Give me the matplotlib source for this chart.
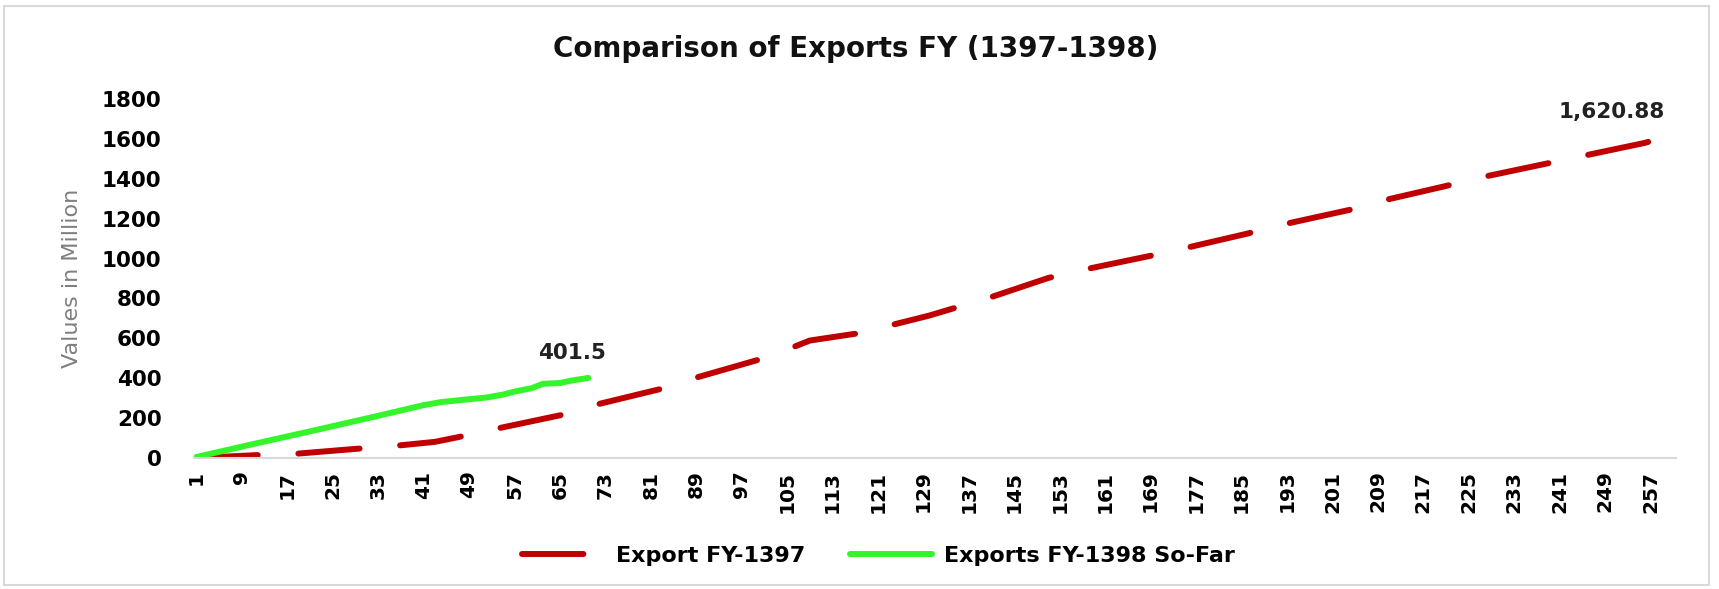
import matplotlib
matplotlib.use("Agg")
import matplotlib.pyplot as plt
from matplotlib.patches import Rectangle

# ---------------- data ----------------
title = "Comparison of Exports FY (1397-1398)"
y_label = "Values in Million"
series_1397_name = "Export FY-1397"
series_1398_name = "Exports FY-1398 So-Far"

n_days = 261
tick_days = list(range(1, 258, 8))
y_ticks = [0, 200, 400, 600, 800, 1000, 1200, 1400, 1600, 1800]

days_1397 = [1, 12, 18, 30, 36, 43, 48, 54, 66, 71, 83, 88, 100, 105, 109, 117,
             123, 130, 134, 140, 151, 157, 169, 175, 186, 192, 204, 209, 221,
             226, 238, 244, 256, 261]
values_1397 = [0, 15, 20, 48, 61, 81, 110, 148, 220, 265, 348, 395, 493, 544,
               589, 623, 664, 714, 748, 798, 903, 943, 1014, 1052, 1125, 1169,
               1244, 1285, 1364, 1400, 1472, 1508, 1580, 1620.88]

days_1398 = [1, 11, 22, 32, 41, 44, 48, 52, 55, 57, 60, 62, 65, 67, 70]
values_1398 = [5, 70, 140, 205, 265, 280, 292, 303, 318, 333, 350, 372, 376,
               388, 401.5]

label_1397 = "1,620.88"
label_1398 = "401.5"

# ---------------- styling ----------------
RED = "#C00000"
GREEN = "#33F52A"
plt.rcParams['font.family'] = ['DejaVu Sans']

fig = plt.figure(figsize=(17.19, 5.89), dpi=100)
ax = fig.add_axes([0.1126, 0.2224, 0.975 - 0.1126, 0.8319 - 0.2224])

lw = 4.3
l1, = ax.plot(days_1397, values_1397, color=RED, lw=lw, label=series_1397_name,
              solid_capstyle='round', dash_capstyle='round')
l1.set_dashes((10.28, 6.81))
l2, = ax.plot(days_1398, values_1398, color=GREEN, lw=lw, label=series_1398_name,
              solid_capstyle='round', solid_joinstyle='round')

ax.set_xlim(0.5, n_days + 0.5)
ax.set_ylim(0, 1800)
ax.set_yticks(y_ticks)
ax.set_yticklabels([str(v) for v in y_ticks], fontsize=15.5, fontweight='bold')
ax.set_xticks(tick_days)
ax.set_xticklabels([str(d) for d in tick_days], rotation=90, fontsize=14.5,
                   fontweight='bold', va='top', ha='center')
ax.tick_params(axis='y', length=0, pad=23)
ax.tick_params(axis='x', length=0, pad=9)

for s in ('left', 'top', 'right'):
    ax.spines[s].set_visible(False)
ax.spines['bottom'].set_color('#D9D9D9')
ax.spines['bottom'].set_linewidth(1.5)

ax.set_ylabel(y_label, fontsize=16, color='#7F7F7F', labelpad=14)

# data labels at last points
ax.annotate(label_1398, (days_1398[-1], values_1398[-1]), xytext=(-11.5, 18),
            textcoords='offset points', ha='center', va='center',
            fontsize=15.5, fontweight='bold', color='#222222')
ax.annotate(label_1397, (days_1397[-1], values_1397[-1]), xytext=(-44, 16.4),
            textcoords='offset points', ha='center', va='center',
            fontsize=15.5, fontweight='bold', color='#222222')

fig.text(0.498, 0.917, title, ha='center', va='center', fontsize=20,
         fontweight='bold', color='#111111')

leg = fig.legend(handles=[l1, l2], loc='center', bbox_to_anchor=(0.511, 0.056),
                 ncol=2, frameon=False, handlelength=3.7, handletextpad=0.55,
                 columnspacing=2.0, prop={'size': 16, 'weight': 'bold'})

fig.patches.append(Rectangle((4 / 1719, 4 / 589), 1705 / 1719, 579 / 589,
                             transform=fig.transFigure, fill=False,
                             edgecolor='#D9D9D9', lw=1.5))

fig.savefig("out.png", dpi=100)
